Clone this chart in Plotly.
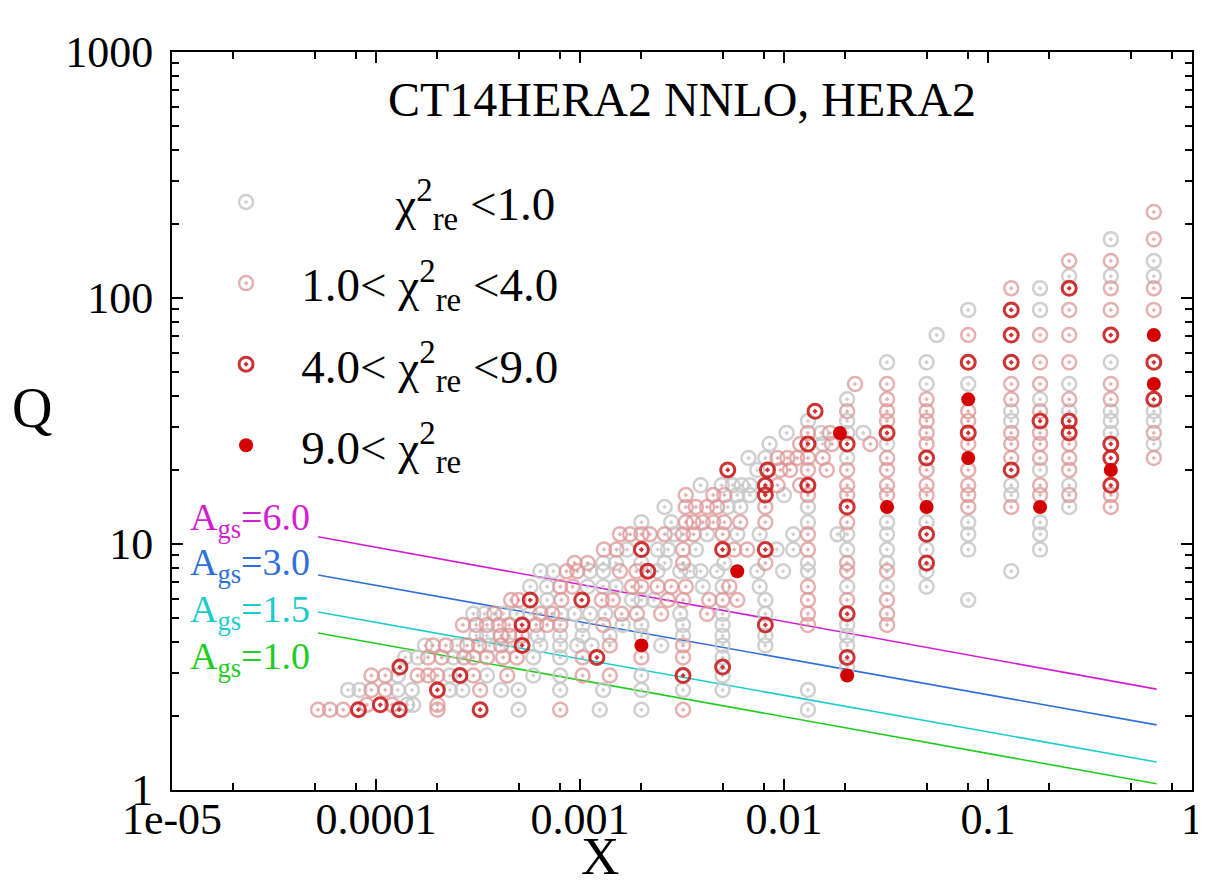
import plotly.graph_objects as go

# ---------------- data ----------------
# category codes: 0: chi2<1, 1: 1<chi2<4, 2: 4<chi2<9, 3: chi2>9
# high-x columns: x value, Q values, categories
col_x = [0.65, 0.40, 0.25, 0.18, 0.13, 0.08, 0.056, 0.05, 0.032, 0.0204]
col_q = [
    [223.6, 173.2, 141.4, 122.5, 109.5, 89.44, 70.71, 54.77, 44.72, 38.73, 34.64, 31.62, 28.28, 25.5, 22.36],
    [173.2, 141.4, 122.5, 109.5, 89.44, 70.71, 54.77, 44.72, 38.73, 34.64, 31.62, 28.28, 25.5, 22.36, 20.0, 17.32, 15.81, 14.14],
    [141.4, 122.5, 109.5, 89.44, 70.71, 54.77, 44.72, 38.73, 34.64, 31.62, 28.28, 25.5, 22.36, 20.0, 17.32, 15.81, 14.14],
    [109.5, 89.44, 70.71, 54.77, 44.72, 38.73, 34.64, 31.62, 28.28, 25.5, 22.36, 20.0, 17.32, 15.81, 14.14, 12.25, 10.95, 9.49],
    [109.5, 89.44, 70.71, 54.77, 44.72, 38.73, 34.64, 31.62, 28.28, 25.5, 22.36, 20.0, 17.32, 15.81, 14.14, 7.75],
    [89.44, 70.71, 54.77, 44.72, 38.73, 34.64, 31.62, 28.28, 25.5, 22.36, 20.0, 17.32, 15.81, 14.14, 12.25, 10.95, 9.49, 5.92],
    [70.71],
    [54.77, 44.72, 38.73, 34.64, 31.62, 28.28, 25.5, 22.36, 20.0, 17.32, 15.81, 14.14, 12.25, 10.95, 9.49, 8.37, 7.75, 6.71],
    [54.77, 44.72, 38.73, 34.64, 31.62, 28.28, 25.5, 22.36, 20.0, 17.32, 15.81, 14.14, 12.25, 10.95, 9.49, 8.37, 7.75, 6.71, 5.92, 5.20, 4.69],
    [38.73, 34.64, 31.62, 28.28, 25.5, 22.36, 20.0, 17.32, 15.81, 14.14, 12.25, 10.95, 9.49, 8.37, 7.75, 6.71, 5.92, 5.20, 4.69, 4.24, 3.87, 3.46, 3.16, 2.92, 2.55],
]
col_c = [
    [1, 1, 0, 0, 1, 1, 3, 2, 3, 2, 0, 0, 1, 0, 1],
    [0, 1, 0, 1, 1, 2, 0, 1, 1, 0, 0, 0, 2, 2, 3, 2, 1, 1],
    [1, 0, 2, 1, 1, 1, 0, 1, 0, 2, 2, 1, 1, 1, 0, 1, 0],
    [0, 0, 1, 1, 1, 0, 1, 2, 1, 1, 1, 0, 1, 1, 3, 0, 0, 0],
    [1, 2, 2, 2, 1, 1, 0, 0, 1, 1, 1, 2, 0, 0, 1, 0],
    [0, 1, 2, 0, 3, 1, 1, 2, 1, 3, 1, 1, 1, 1, 0, 0, 0, 0],
    [0],
    [0, 0, 1, 1, 1, 1, 1, 2, 1, 1, 1, 3, 0, 2, 0, 2, 0, 0],
    [0, 1, 1, 1, 1, 2, 0, 1, 1, 1, 1, 3, 0, 0, 0, 0, 1, 0, 1, 1, 1],
    [0, 1, 0, 0, 2, 0, 1, 1, 1, 2, 1, 0, 0, 1, 1, 0, 1, 2, 0, 0, 0, 2, 0, 3],
]

# low-x rows: Q value, x values, categories
row_q = [2.12, 2.22, 2.55, 2.92, 3.16, 3.46, 3.87, 4.24, 4.69, 5.20, 5.92, 6.71, 7.75, 8.37,
         9.49, 10.95, 12.25, 14.14, 15.81, 17.32, 20.0, 22.36, 25.5, 28.28, 31.62, 34.64, 44.72]
row_x = [
    [5.2e-5, 5.95e-5, 6.9e-5, 8.2e-5, 1.3e-4, 2.0e-4, 3.24e-4, 5.0e-4, 8.0e-4, 1.25e-3, 2.0e-3, 3.2e-3, 1.31e-2],
    [9.0e-5, 1.05e-4, 1.2e-4, 1.42e-4, 1.52e-4, 2.0e-4],
    [7.3e-5, 8.3e-5, 9.5e-5, 1.11e-4, 1.28e-4, 1.5e-4, 2.0e-4, 2.3e-4, 2.65e-4, 3.24e-4, 4.1e-4, 5.0e-4,
     8.0e-4, 1.3e-3, 2.0e-3, 3.2e-3, 5.0e-3, 1.31e-2],
    [9.5e-5, 1.11e-4, 1.28e-4, 1.6e-4, 1.8e-4, 2.0e-4, 2.3e-4, 2.58e-4, 3.0e-4, 3.5e-4, 4.4e-4, 5.9e-4,
     8.0e-4, 1.03e-3, 1.4e-3, 2.0e-3, 3.2e-3, 5.0e-3],
    [1.31e-4, 5.0e-3],
    [1.39e-4, 1.6e-4, 1.8e-4, 2.1e-4, 2.4e-4, 2.7e-4, 3.0e-4, 3.5e-4, 4.2e-4, 4.9e-4, 5.9e-4, 8.0e-4,
     1.03e-3, 1.21e-3, 2.0e-3, 3.2e-3, 5.0e-3],
    [1.74e-4, 1.9e-4, 2.2e-4, 2.5e-4, 2.8e-4, 3.2e-4, 3.6e-4, 4.1e-4, 4.6e-4, 5.2e-4, 6.4e-4, 8.0e-4,
     9.7e-4, 1.14e-3, 1.4e-3, 2.0e-3, 2.5e-3, 3.2e-3, 5.0e-3, 8.1e-3],
    [3.1e-4, 3.5e-4, 4.1e-4, 4.5e-4, 5.2e-4, 6.2e-4, 8.0e-4, 1.03e-3, 1.4e-3, 2.0e-3, 3.2e-3, 5.0e-3, 8.1e-3],
    [2.67e-4, 3.1e-4, 3.5e-4, 4.0e-4, 4.5e-4, 5.2e-4, 6.1e-4, 6.9e-4, 8.0e-4, 1.03e-3, 1.3e-3, 1.62e-3,
     2.0e-3, 3.2e-3, 5.0e-3, 8.1e-3, 1.31e-2],
    [3.0e-4, 3.4e-4, 3.8e-4, 4.2e-4, 4.9e-4, 5.7e-4, 6.4e-4, 7.3e-4, 8.1e-4, 9.4e-4, 1.12e-3, 1.33e-3,
     1.6e-3, 1.9e-3, 2.5e-3, 3.1e-3, 4.2e-3, 5.0e-3, 8.1e-3, 1.31e-2],
    [4.6e-4, 5.0e-4, 5.7e-4, 6.9e-4, 8.1e-4, 1.02e-3, 1.28e-3, 1.45e-3, 1.8e-3, 2.0e-3, 2.3e-3, 2.7e-3,
     3.2e-3, 4.3e-3, 5.0e-3, 5.9e-3, 8.1e-3, 1.31e-2],
    [5.7e-4, 6.9e-4, 8.0e-4, 9.2e-4, 1.09e-3, 1.3e-3, 1.5e-3, 1.8e-3, 2.0e-3, 2.4e-3, 2.8e-3, 3.3e-3,
     4.0e-3, 5.0e-3, 5.4e-3, 7.6e-3, 1.31e-2],
    [6.4e-4, 7.4e-4, 8.6e-4, 9.7e-4, 1.12e-3, 1.3e-3, 1.57e-3, 1.89e-3, 2.15e-3, 2.4e-3, 3.1e-3, 3.46e-3,
     3.9e-3, 4.7e-3, 5.9e-3, 7.4e-3, 9.9e-3, 1.31e-2],
    [9.4e-4, 1.09e-3, 1.3e-3, 1.5e-3, 2.0e-3, 2.6e-3, 3.2e-3, 5.1e-3, 8.1e-3, 1.31e-2],
    [1.31e-3, 1.51e-3, 1.7e-3, 2.0e-3, 2.4e-3, 2.7e-3, 3.2e-3, 3.7e-3, 5.0e-3, 5.7e-3, 6.6e-3, 8.1e-3,
     9.2e-3, 1.11e-2, 1.31e-2],
    [1.57e-3, 1.76e-3, 2.0e-3, 2.2e-3, 2.6e-3, 2.9e-3, 3.2e-3, 3.6e-3, 4.2e-3, 5.0e-3, 5.9e-3, 7.6e-3,
     1.11e-2, 1.31e-2, 1.83e-2],
    [2.0e-3, 2.8e-3, 3.3e-3, 3.6e-3, 4.0e-3, 4.5e-3, 5.1e-3, 6.1e-3, 8.1e-3, 1.31e-2],
    [2.6e-3, 3.3e-3, 3.7e-3, 4.2e-3, 4.7e-3, 5.3e-3, 6.1e-3, 8.1e-3, 1.31e-2],
    [3.3e-3, 4.5e-3, 5.1e-3, 5.9e-3, 6.8e-3, 8.1e-3, 1.0e-2, 1.31e-2],
    [3.9e-3, 4.95e-3, 5.6e-3, 6.2e-3, 6.8e-3, 8.1e-3, 9.3e-3, 1.2e-2, 1.31e-2],
    [5.3e-3, 7.4e-3, 8.3e-3, 9.6e-3, 1.07e-2, 1.31e-2, 1.62e-2],
    [6.7e-3, 8.1e-3, 9.3e-3, 1.04e-2, 1.16e-2, 1.31e-2, 1.55e-2],
    [8.5e-3, 1.2e-2, 1.31e-2, 1.55e-2, 1.72e-2, 2.65e-2],
    [1.03e-2, 1.31e-2, 1.52e-2, 1.68e-2, 1.88e-2, 2.45e-2],
    [1.31e-2],
    [1.42e-2],
    [2.23e-2],
]
row_c = [
    [1, 1, 1, 2, 2, 1, 2, 0, 1, 0, 0, 1, 0],
    [1, 2, 1, 0, 0, 1],
    [0, 0, 1, 1, 0, 0, 2, 0, 0, 1, 0, 0, 0, 0, 0, 0, 0, 0],
    [1, 1, 0, 1, 1, 1, 0, 2, 1, 0, 1, 0, 0, 1, 1, 0, 2, 0],
    [2, 2],
    [0, 0, 1, 1, 0, 1, 1, 1, 1, 1, 0, 0, 1, 2, 1, 1, 0],
    [0, 1, 1, 0, 1, 1, 0, 1, 0, 2, 0, 0, 0, 0, 1, 3, 0, 1, 0, 0],
    [0, 0, 1, 1, 1, 0, 0, 0, 0, 0, 0, 0, 0],
    [1, 1, 1, 1, 1, 2, 1, 1, 1, 0, 1, 0, 0, 0, 0, 2, 1],
    [0, 0, 1, 0, 0, 0, 1, 1, 0, 0, 0, 0, 1, 1, 1, 0, 1, 0, 0, 1],
    [1, 1, 2, 0, 1, 2, 1, 1, 0, 0, 0, 1, 1, 1, 1, 1, 0, 1],
    [0, 0, 1, 1, 0, 0, 0, 1, 1, 1, 1, 1, 0, 0, 1, 0, 1],
    [0, 0, 1, 1, 0, 0, 1, 1, 2, 0, 0, 0, 0, 0, 3, 0, 0, 0],
    [1, 1, 0, 0, 0, 0, 1, 0, 1, 0],
    [1, 1, 0, 2, 0, 0, 1, 0, 2, 1, 1, 2, 0, 0, 1],
    [1, 1, 1, 1, 1, 0, 1, 1, 0, 1, 0, 0, 0, 1, 0],
    [0, 0, 1, 1, 1, 1, 1, 1, 1, 0],
    [0, 1, 1, 1, 1, 0, 0, 1, 0],
    [1, 1, 1, 0, 0, 2, 0, 1],
    [0, 0, 0, 0, 0, 2, 1, 1, 2],
    [2, 0, 2, 1, 1, 1, 1],
    [0, 0, 1, 1, 1, 1, 1],
    [0, 1, 2, 0, 1, 1],
    [0, 1, 0, 1, 3, 0],
    [0],
    [2],
    [1],
]

# A_gs saturation lines (two end points each)
line_x = [5.2e-5, 0.67]
ags_labels = ["6.0", "3.0", "1.5", "1.0"]
ags_q = [[10.7, 2.57], [7.48, 1.84], [5.29, 1.30], [4.35, 1.06]]
ags_colors = ["#d21ed2", "#2f6fd6", "#1ccccc", "#22cc22"]

cat_names = [
    "\u00a0" * 11 + "χ<sup>2</sup><sub>re</sub> <1.0",
    "\u00a0" * 3 + "1.0< χ<sup>2</sup><sub>re</sub> <4.0",
    "\u00a0" * 3 + "4.0< χ<sup>2</sup><sub>re</sub> <9.0",
    "\u00a0" * 3 + "9.0< χ<sup>2</sup><sub>re</sub>",
]

x_tick_vals = [1e-5, 1e-4, 1e-3, 1e-2, 1e-1, 1]
x_tick_text = ["1e-05", "0.0001", "0.001", "0.01", "0.1", "1"]
x_minor_vals = [2e-5, 5e-5, 8e-5, 2e-4, 5e-4, 8e-4, 2e-3, 5e-3, 8e-3, 0.02, 0.05, 0.08, 0.2, 0.5, 0.8]
y_tick_vals = [1, 10, 100, 1000]
y_tick_text = ["1", "10", "100", "1000"]
y_minor_vals = [2, 3, 4, 5, 6, 7, 8, 9, 20, 30, 40, 50, 60, 70, 80, 90,
                200, 300, 400, 500, 600, 700, 800, 900]

# ---------------- build ----------------
pts = {c: ([], []) for c in range(4)}
for cx, qs, cs in zip(col_x, col_q, col_c):
    for q, c in zip(qs, cs):
        pts[c][0].append(cx)
        pts[c][1].append(q)
for rq, xs, cs in zip(row_q, row_x, row_c):
    for x, c in zip(xs, cs):
        pts[c][0].append(x)
        pts[c][1].append(rq)

styles = [
    dict(symbol="circle-open-dot", color="rgba(200,200,200,0.85)", size=14, line=dict(width=2.5)),
    dict(symbol="circle-open-dot", color="rgba(220,150,150,0.75)", size=14, line=dict(width=2.5)),
    dict(symbol="circle-open-dot", color="rgba(200,30,30,0.9)", size=14, line=dict(width=3)),
    dict(symbol="circle", color="rgb(210,0,0)", size=14, line=dict(width=0)),
]

FONT = "Liberation Serif"
fig = go.Figure()

for lab, qv, col in zip(ags_labels, ags_q, ags_colors):
    fig.add_trace(go.Scatter(x=line_x, y=qv, mode="lines", line=dict(color=col, width=1.6),
                             showlegend=False, hoverinfo="skip"))

for c in range(4):
    fig.add_trace(go.Scatter(x=pts[c][0], y=pts[c][1], mode="markers", marker=styles[c],
                             name=cat_names[c], legendgroup="g%d" % c))

axis_common = dict(
    type="log", showgrid=False, zeroline=False, showline=True, linecolor="black", linewidth=2,
    mirror="ticks", ticks="inside", ticklen=11, tickwidth=1.5, tickcolor="black", automargin=False,
    tickfont=dict(family=FONT, size=44, color="black"),
)
fig.update_xaxes(**axis_common, range=[-5, 0], tickmode="array", tickvals=x_tick_vals,
                 ticktext=x_tick_text, ticklabelstandoff=-11,
                 minor=dict(tickmode="array", tickvals=x_minor_vals, ticks="inside", ticklen=7,
                            tickwidth=1.5, tickcolor="black", showgrid=False))
fig.update_yaxes(**axis_common, range=[0, 3], tickmode="array", tickvals=y_tick_vals,
                 ticktext=y_tick_text, ticklabelstandoff=8,
                 minor=dict(tickmode="array", tickvals=y_minor_vals, ticks="inside", ticklen=7,
                            tickwidth=1.5, tickcolor="black", showgrid=False))

annotations = [
    dict(text="CT14HERA2 NNLO, HERA2", x=0.5, y=0.935, xref="paper", yref="paper",
         xanchor="center", yanchor="middle", showarrow=False,
         font=dict(family=FONT, size=48, color="black")),
    dict(text="Q", x=-0.137, y=0.518, xref="paper", yref="paper", xanchor="center",
         yanchor="middle", showarrow=False, font=dict(family=FONT, size=56, color="black")),
    dict(text="X", x=0.42, y=-0.089, xref="paper", yref="paper", xanchor="center",
         yanchor="middle", showarrow=False, font=dict(family=FONT, size=53, color="black")),
]
ags_ypos = [0.366, 0.305, 0.241, 0.1775]
for lab, col, yp in zip(ags_labels, ags_colors, ags_ypos):
    annotations.append(dict(text="A<sub>gs</sub>=" + lab, x=0.0157, y=yp, xref="paper", yref="paper",
                            xanchor="left", yanchor="middle", showarrow=False,
                            font=dict(family=FONT, size=38, color=col)))

# the page body adds an 8 px offset; margins are reduced to compensate
fig.update_layout(
    width=1206, height=882,
    margin=dict(l=164, r=22, t=44, b=100, autoexpand=False),
    paper_bgcolor="white", plot_bgcolor="white",
    font=dict(family=FONT, color="black"),
    annotations=annotations,
    legend=dict(x=0.053, y=0.847, xanchor="left", yanchor="top", bgcolor="rgba(0,0,0,0)",
                font=dict(family=FONT, size=47, color="black"), tracegroupgap=17,
                itemsizing="trace"),
)

fig.write_html("out.html")
